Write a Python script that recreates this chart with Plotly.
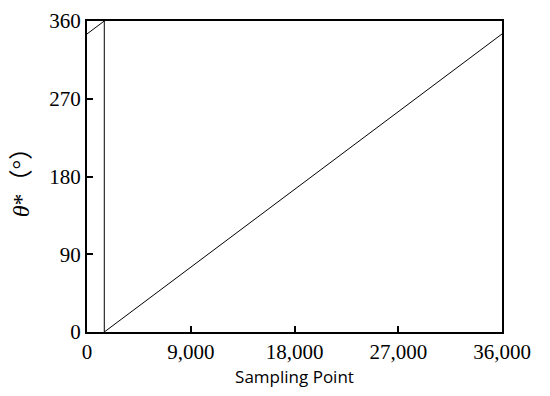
import plotly.graph_objects as go

# sawtooth phase record, wraps at 360 just after the start
sample_points = [0, 1500, 1500, 36000]
theta_deg = [345, 360, 0, 345]

x_ticks = [0, 9000, 18000, 27000, 36000]
x_tick_labels = ["0", "9,000", "18,000", "27,000", "36,000"]
y_ticks = [0, 90, 180, 270, 360]

serif = "Liberation Serif"

fig = go.Figure()
fig.add_trace(go.Scatter(
    x=sample_points, y=theta_deg, mode="lines",
    line=dict(color="black", width=1), showlegend=False,
))

fig.update_xaxes(
    range=[0, 36000], tickvals=x_ticks, ticktext=x_tick_labels,
    ticks="inside", ticklen=6, tickwidth=2, tickcolor="black",
    showline=True, linewidth=2, linecolor="black", mirror=True,
    showgrid=False, zeroline=False, automargin=False,
    tickfont=dict(family=serif, size=21, color="black"),
    title=dict(text="Sampling Point", standoff=13,
               font=dict(family="Open Sans", size=17, color="black")),
)
fig.update_yaxes(
    range=[0, 360], tickvals=y_ticks,
    ticks="inside", ticklen=6, tickwidth=2, tickcolor="black",
    showline=True, linewidth=2, linecolor="black", mirror=True,
    showgrid=False, zeroline=False, automargin=False,
    tickfont=dict(family=serif, size=21, color="black"),
    title=dict(text="<i>θ</i>*（°）", standoff=13,
               font=dict(family=serif + ", Noto Sans CJK SC", size=24, color="black")),
)
# page body adds an 8px margin, so the figure is sized to fit inside it
fig.update_layout(
    width=534, height=380,
    margin=dict(l=79, r=40, t=13, b=56),
    plot_bgcolor="white", paper_bgcolor="white",
)
fig.write_html("out.html")
